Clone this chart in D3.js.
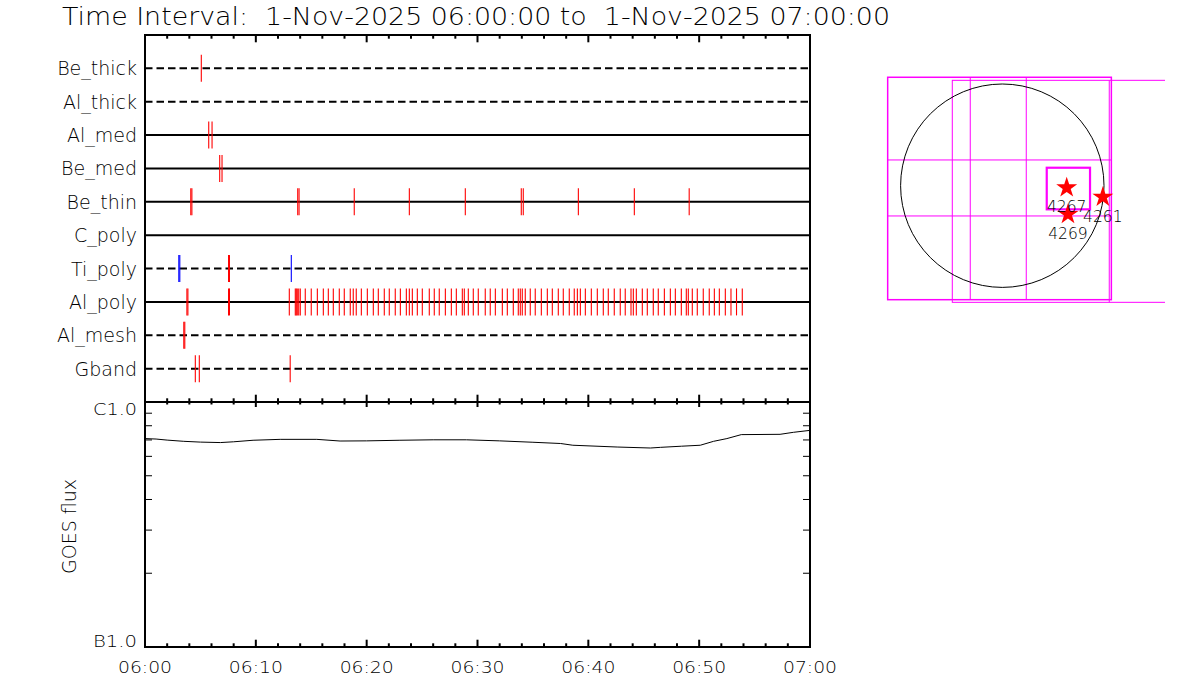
<!DOCTYPE html>
<html><head><meta charset="utf-8">
<script src="https://cdn.jsdelivr.net/npm/d3@7"></script>
<style>
body{margin:0;background:#fff;}
svg{display:block;background:#fff;}
text{font-family:"DejaVu Sans",sans-serif;font-weight:200;fill:#000;}
</style></head><body>
<svg id="chart" width="1200" height="700"></svg>
<script>
// ---------------- DATA ----------------
const startTime = "2025-11-01T06:00:00Z";
const endTime   = "2025-11-01T07:00:00Z";
const titleText = "Time Interval:  1-Nov-2025 06:00:00 to  1-Nov-2025 07:00:00";
const rowNames = ["Be_thick","Al_thick","Al_med","Be_med","Be_thin","C_poly","Ti_poly","Al_poly","Al_mesh","Gband"];
const dashedRows = ["Be_thick","Al_thick","Ti_poly","Al_mesh","Gband"];

// event times, minutes after 06:00 (closely spaced pairs appear as thick marks)
const beThickRed = [5.08];
const alThickRed = [];
const alMedRed   = [5.75, 6.05];
const beMedRed   = [6.74, 6.95];
const beThinRed  = [4.13, 4.23, 13.78, 13.90, 18.88, 23.85, 28.90, 33.95, 34.13, 39.10, 44.15, 49.10];
const cPolyRed   = [];
const tiPolyRed  = [7.54, 7.62];
const tiPolyBlue = [3.05, 3.14, 13.20];
const alPolyRed  = [3.78, 3.87, 7.54, 7.62,
  13.02,13.56,13.65,13.74,13.87,14.01,14.46,15.00,15.55,16.09,16.54,16.99,17.53,17.98,18.52,18.79,
  19.06,19.52,20.06,20.60,21.05,21.59,22.04,22.58,23.04,23.58,23.85,24.12,24.57,25.02,25.65,26.10,
  26.55,27.10,27.64,28.09,28.63,28.81,29.17,29.62,30.07,30.70,31.15,31.61,32.24,32.69,33.23,33.68,
  33.86,34.04,34.31,34.76,35.21,35.76,36.30,36.75,37.29,37.74,38.28,38.73,39.01,39.28,39.73,40.27,
  40.81,41.35,41.80,42.34,42.88,43.33,43.85,44.06,44.33,44.87,45.32,45.86,46.31,46.86,47.40,47.85,
  48.39,48.84,49.02,49.38,49.83,50.37,50.91,51.37,51.82,52.36,52.87,53.37,53.89];
const alMeshRed  = [3.50, 3.59];
const gbandRed   = [4.54, 4.90, 13.10];

const redEvents  = {Be_thick:beThickRed, Al_thick:alThickRed, Al_med:alMedRed, Be_med:beMedRed,
  Be_thin:beThinRed, C_poly:cPolyRed, Ti_poly:tiPolyRed, Al_poly:alPolyRed, Al_mesh:alMeshRed, Gband:gbandRed};
const blueEvents = {Ti_poly:tiPolyBlue};

// GOES flux (W/m^2) vs minutes after 06:00
const goesMinutes = [0,1,2,3.5,5,6.8,8,9.75,12.2,15.5,17.6,20,23,26,29,32,35,37.5,38.6,42.6,45.6,46.5,48.4,50.1,51.3,52.5,53.8,57.3,58.5,60];
const goesFlux = [7.09e-7,7.06e-7,6.99e-7,6.91e-7,6.86e-7,6.83e-7,6.88e-7,6.98e-7,7.04e-7,7.04e-7,6.93e-7,6.94e-7,6.98e-7,7.01e-7,7.01e-7,
  6.94e-7,6.85e-7,6.77e-7,6.66e-7,6.55e-7,6.49e-7,6.53e-7,6.60e-7,6.66e-7,6.91e-7,7.09e-7,7.36e-7,7.38e-7,7.52e-7,7.66e-7];
const fluxTickLabels = ["B1.0","C1.0"];
const fluxLabelValues = [1e-7, 1e-6];

// Solar map (arcsec)
const sunRadius = 968;
const fovMain = {x0:-1091, x1:1038, y0:-1085, y1:1032};
const fovMainGridX = [-305, 228];
const fovMainGridY = [245, -288];
const fovSecond = {x0:-476, x1:2200, y0:-1110, y1:1003};
const fovSecondGridX = [1018];
const fovSmall = {x0:423, x1:835, y0:-225, y1:171};
const arNames = ["4267","4261","4269"];
const arX = [613, 957, 625];
const arY = [-19, -108, -272];

// ---------------- DRAW ----------------
const svg = d3.select("#chart");
const L=145, R=810, T=35, M=402, B=647;
const t0 = new Date(startTime), t1 = new Date(endTime);
const toDate = m => new Date(t0.getTime() + m*60000);
const x = d3.scaleUtc().domain([t0,t1]).range([L,R]);
const yRow = d3.scalePoint().domain(rowNames).range([T,M]).padding(1);
const yFlux = d3.scaleLog().domain([1e-7,1e-6]).range([B,M]);

svg.append("text").attr("x",62).attr("y",25).attr("font-size",24)
  .attr("textLength",828).attr("lengthAdjust","spacingAndGlyphs")
  .style("white-space","pre").text(titleText);

// row baselines
svg.append("g").selectAll("line").data(rowNames).join("line")
  .attr("x1",L).attr("x2",R).attr("y1",d=>yRow(d)).attr("y2",d=>yRow(d))
  .attr("stroke","#000").attr("stroke-width",2)
  .attr("stroke-dasharray",d=>dashedRows.includes(d)?"7.5,4":null);

// row labels
svg.append("g").selectAll("text").data(rowNames).join("text")
  .attr("x",137).attr("y",d=>yRow(d)+7).attr("text-anchor","end")
  .attr("font-size",19).text(d=>d);

// event marks
function drawEvents(obj,color){
  const flat=[];
  Object.keys(obj).forEach(k=>obj[k].forEach(m=>flat.push({row:k,m})));
  svg.append("g").selectAll("line").data(flat).join("line")
    .attr("x1",d=>x(toDate(d.m))).attr("x2",d=>x(toDate(d.m)))
    .attr("y1",d=>yRow(d.row)-13.5).attr("y2",d=>yRow(d.row)+13.5)
    .attr("stroke",color).attr("stroke-width",1.1);
}
drawEvents(redEvents,"#ff0000");
drawEvents(blueEvents,"#0000ff");

// time ticks
function timeTicks(y, dir, majLen, minLen){
  const minor = x.ticks(d3.utcMinute.every(2));
  svg.append("g").selectAll("line").data(minor).join("line")
    .attr("x1",d=>x(d)).attr("x2",d=>x(d))
    .attr("y1",y).attr("y2",d=>y+dir*(d.getUTCMinutes()%10===0?majLen:minLen))
    .attr("stroke","#000").attr("stroke-width",2);
}
timeTicks(T, 1, 7.3, 3.7);
timeTicks(M, -1, 7.3, 3.7);
timeTicks(M, 1, 5, 2.5);
timeTicks(B, -1, 7.3, 3.7);

// GOES curve
const goes = goesMinutes.map((m,i)=>({t:toDate(m), f:goesFlux[i]}));
svg.append("path").datum(goes)
  .attr("d",d3.line().x(d=>x(d.t)).y(d=>yFlux(d.f)))
  .attr("fill","none").attr("stroke","#000").attr("stroke-width",1);

// log y ticks
const yt = yFlux.ticks().filter(v=>v>1.01e-7 && v<0.99e-6);
svg.append("g").selectAll("line").data(yt).join("line")
  .attr("x1",L).attr("x2",L+7).attr("y1",d=>yFlux(d)).attr("y2",d=>yFlux(d))
  .attr("stroke","#000").attr("stroke-width",1);
svg.append("g").selectAll("line").data(yt).join("line")
  .attr("x1",R).attr("x2",R-7).attr("y1",d=>yFlux(d)).attr("y2",d=>yFlux(d))
  .attr("stroke","#000").attr("stroke-width",1);

// frames
svg.append("rect").attr("x",L).attr("y",T).attr("width",R-L).attr("height",M-T)
  .attr("fill","none").attr("stroke","#000").attr("stroke-width",2);
svg.append("rect").attr("x",L).attr("y",M).attr("width",R-L).attr("height",B-M)
  .attr("fill","none").attr("stroke","#000").attr("stroke-width",2);

// y labels
svg.append("g").selectAll("text").data(fluxLabelValues).join("text")
  .attr("x",137).attr("text-anchor","end").attr("font-size",16)
  .attr("textLength",44).attr("lengthAdjust","spacingAndGlyphs")
  .attr("y",(d,i)=> i===0 ? yFlux(d) : yFlux(d)+13)
  .text((d,i)=>fluxTickLabels[i]);

svg.append("text").attr("transform",`translate(76,${(M+B)/2+2}) rotate(-90)`)
  .attr("text-anchor","middle").attr("font-size",19).text("GOES flux");

// x labels
const fmt = d3.utcFormat("%H:%M");
svg.append("g").selectAll("text").data(x.ticks(d3.utcMinute.every(10))).join("text")
  .attr("x",d=>x(d)).attr("y",673).attr("text-anchor","middle").attr("font-size",16)
  .attr("textLength",54).attr("lengthAdjust","spacingAndGlyphs").text(d=>fmt(d));

// ---------------- SOLAR MAP ----------------
const cx=1002.3, cy=185.7, rpx=101.7;
const mx = d3.scaleLinear().domain([-sunRadius,sunRadius]).range([cx-rpx,cx+rpx]);
const my = d3.scaleLinear().domain([-sunRadius,sunRadius]).range([cy+rpx,cy-rpx]);
svg.append("clipPath").attr("id","mapclip").append("rect")
  .attr("x",830).attr("y",0).attr("width",335).attr("height",700);
const map = svg.append("g").attr("clip-path","url(#mapclip)");
const mag = "#ff00ff";

function box(b,w){
  map.append("rect").attr("x",mx(b.x0)).attr("y",my(b.y1))
    .attr("width",mx(b.x1)-mx(b.x0)).attr("height",my(b.y0)-my(b.y1))
    .attr("fill","none").attr("stroke",mag).attr("stroke-width",w);
}
box(fovMain,1.5);
map.selectAll(null).data(fovMainGridX).join("line")
  .attr("x1",d=>mx(d)).attr("x2",d=>mx(d)).attr("y1",my(fovMain.y1)).attr("y2",my(fovMain.y0))
  .attr("stroke",mag).attr("stroke-width",1);
map.selectAll(null).data(fovMainGridY).join("line")
  .attr("y1",d=>my(d)).attr("y2",d=>my(d)).attr("x1",mx(fovMain.x0)).attr("x2",mx(fovMain.x1))
  .attr("stroke",mag).attr("stroke-width",1);
box(fovSecond,1);
map.selectAll(null).data(fovSecondGridX).join("line")
  .attr("x1",d=>mx(d)).attr("x2",d=>mx(d)).attr("y1",my(fovSecond.y1)).attr("y2",my(fovSecond.y0))
  .attr("stroke",mag).attr("stroke-width",1);

map.append("circle").attr("cx",mx(0)).attr("cy",my(0)).attr("r",mx(sunRadius)-mx(0))
  .attr("fill","none").attr("stroke","#000").attr("stroke-width",1);

box(fovSmall,2.2);

const ars = arNames.map((n,i)=>({n, x:arX[i], y:arY[i]}));
const star = d3.symbol().type(d3.symbolStar).size(136);
map.selectAll(null).data(ars).join("path")
  .attr("d",star).attr("transform",d=>`translate(${mx(d.x)},${my(d.y)})`)
  .attr("fill","#ff0000");
map.selectAll(null).data(ars).join("text")
  .attr("x",d=>mx(d.x)).attr("y",d=>my(d.y)+24.5).attr("text-anchor","middle")
  .attr("font-size",15.5).text(d=>d.n);
</script>
</body></html>
